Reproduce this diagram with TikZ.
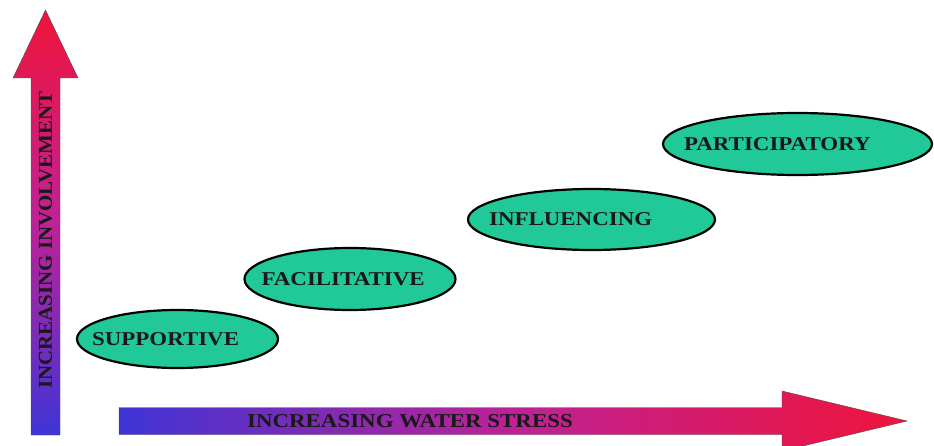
\documentclass[tikz,border=0pt]{standalone}
\usepackage{graphicx}
\usepackage{fontspec}
\setmainfont{Liberation Serif}
\usepackage{tikz}
\usetikzlibrary{shapes.geometric}

\definecolor{lowblue}{RGB}{62,52,214}
\definecolor{midmagenta}{RGB}{190,34,150}
\definecolor{highred}{RGB}{240,20,58}
\definecolor{stagegreen}{RGB}{32,201,151}
\newcommand{\widecaps}[1]{\scalebox{1.17}[1]{#1}}

\begin{document}
\begin{tikzpicture}[x=1pt, y=1pt]
    \tikzstyle{stage}=[ellipse, draw=black, line width=2.2pt, fill=stagegreen, inner sep=0pt]
    \tikzstyle{stagetext}=[inner sep=0pt, anchor=west, text=black!90, font=\fontsize{19.6}{20}\selectfont\bfseries]
    \useasboundingbox (0,0) rectangle (934,445);
    % vertical arrow: involvement
    \shade[bottom color=lowblue, top color=highred, middle color=midmagenta, draw=black!70, line width=0.4pt]
        (31,10) -- (60,10) -- (60,367) -- (78,367) -- (45.5,435) -- (13,367) -- (31,367) -- cycle;
    \draw (45.5,205) node[stagetext, anchor=center, rotate=90] (involvement) {\scalebox{1.07}[1]{INCREASING INVOLVEMENT}};
    % horizontal arrow: water stress
    \shade[left color=lowblue, right color=highred, middle color=midmagenta, draw=black!70, line width=0.4pt]
        (119,37.5) -- (782,37.5) -- (782,54) -- (907,24) -- (782,-6) -- (782,10.5) -- (119,10.5) -- cycle;
    \draw (410,23.5) node[stagetext, anchor=center] (stress) {\widecaps{INCREASING WATER STRESS}};
    % stages
    \draw (177.5,106) node[stage, minimum width=201, minimum height=58] (supportive) {};
    \draw (350,166) node[stage, minimum width=211, minimum height=62] (facilitative) {};
    \draw (591.5,225.5) node[stage, minimum width=247, minimum height=61] (influencing) {};
    \draw (797.5,301) node[stage, minimum width=269, minimum height=62] (participatory) {};
    \draw ([xshift=16]supportive.west) node[stagetext] (supportivetext) {\widecaps{SUPPORTIVE}};
    \draw ([xshift=18]facilitative.west) node[stagetext] (facilitativetext) {\widecaps{FACILITATIVE}};
    \draw ([xshift=22]influencing.west) node[stagetext] (influencingtext) {\widecaps{INFLUENCING}};
    \draw ([xshift=22]participatory.west) node[stagetext] (participatorytext) {\widecaps{PARTICIPATORY}};
\end{tikzpicture}
\end{document}
